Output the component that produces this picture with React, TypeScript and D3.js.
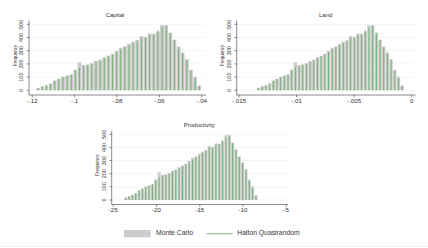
import React from 'react';
import * as d3 from 'd3';

// ---- data (counts per bin, 40 bins, same draws shown in all three panels) ----
const capitalMonteCarlo = [18, 30, 37, 52, 74, 86, 102, 110, 120, 158, 212, 190, 195, 205, 222, 232, 250, 262, 276, 298, 322, 332, 352, 368, 382, 410, 405, 430, 428, 445, 493, 493, 437, 381, 331, 285, 235, 155, 103, 35];
const capitalHalton = [15, 28, 40, 50, 72, 88, 100, 112, 118, 148, 172, 185, 192, 202, 218, 228, 245, 258, 272, 290, 308, 328, 340, 358, 372, 400, 398, 420, 425, 457, 477, 490, 432, 386, 326, 280, 230, 149, 91, 35];
const landMonteCarlo = [18, 30, 37, 52, 74, 86, 102, 110, 120, 158, 212, 190, 195, 205, 222, 232, 250, 262, 276, 298, 322, 332, 352, 368, 382, 410, 405, 430, 428, 445, 493, 493, 437, 381, 331, 285, 235, 155, 103, 35];
const landHalton = [15, 28, 40, 50, 72, 88, 100, 112, 118, 148, 172, 185, 192, 202, 218, 228, 245, 258, 272, 290, 308, 328, 340, 358, 372, 400, 398, 420, 425, 457, 477, 490, 432, 386, 326, 280, 230, 149, 91, 35];
const productivityMonteCarlo = [18, 30, 37, 52, 74, 86, 102, 110, 120, 158, 212, 190, 195, 205, 222, 232, 250, 262, 276, 298, 322, 332, 352, 368, 382, 410, 405, 430, 428, 445, 493, 493, 437, 381, 331, 285, 235, 155, 103, 35];
const productivityHalton = [15, 28, 40, 50, 72, 88, 100, 112, 118, 148, 172, 185, 192, 202, 218, 228, 245, 258, 272, 290, 308, 328, 340, 358, 372, 400, 398, 420, 425, 457, 477, 490, 432, 386, 326, 280, 230, 149, 91, 35];

// bin ranges (min, max of histogram)
const capitalBinRange = [-0.1182, -0.0402];
const landBinRange = [-0.01346, -0.00067];
const productivityBinRange = [-23.76, -8.31];

// tick values and labels
const capitalTicks = [-0.12, -0.1, -0.08, -0.06, -0.04];
const capitalTickLabels = ['-.12', '-.1', '-.08', '-.06', '-.04'];
const landTicks = [-0.015, -0.01, -0.005, 0];
const landTickLabels = ['-.015', '-.01', '-.005', '0'];
const productivityTicks = [-25, -20, -15, -10, -5];
const productivityTickLabels = ['-25', '-20', '-15', '-10', '-5'];
const frequencyTicks = [0, 100, 200, 300, 400, 500];

const seriesNames = ['Monte Carlo', 'Halton Quasirandom'];

const FONT = "'Liberation Sans', Arial, Helvetica, sans-serif";
const GRAY = '#cccccc';
const GREEN = '#39a039';
const AXIS = '#3a3a3a';
const TEXT = '#333333';

type PanelProps = {
  title: string;
  xDomain: [number, number];
  xRange: [number, number];
  yRange: [number, number];
  axisX: number;
  axisTop: number;
  axisBottom: number;
  right: number;
  titleX: number;
  titleY: number;
  binRange: number[];
  ticks: number[];
  tickLabels: string[];
  mc: number[];
  halton: number[];
};

function Panel(p: PanelProps) {
  const x = d3.scaleLinear().domain(p.xDomain).range(p.xRange);
  const y = d3.scaleLinear().domain([0, 500]).range(p.yRange);
  const n = p.mc.length;
  const edges = d3.range(n + 1).map((i) => p.binRange[0] + ((p.binRange[1] - p.binRange[0]) * i) / n);
  const midY = y(250);
  return (
    <g>
      <text x={p.titleX} y={p.titleY} fontSize={6} textAnchor="middle" dominantBaseline="middle" fill={TEXT} fontFamily={FONT}>
        {p.title}
      </text>
      {frequencyTicks.map((t) => (
        <line key={'g' + t} x1={p.axisX} x2={p.right} y1={y(t)} y2={y(t)} stroke="#ececec" strokeWidth={0.6} />
      ))}
      {p.mc.map((v, i) => {
        const x0 = x(edges[i]);
        const x1 = x(edges[i + 1]);
        return <rect key={'b' + i} x={x0 + 0.15} width={x1 - x0 - 0.3} y={y(v)} height={y(0) - y(v)} fill={GRAY} />;
      })}
      {p.halton.map((v, i) => {
        const cx = x((edges[i] + edges[i + 1]) / 2);
        return <line key={'s' + i} x1={cx} x2={cx} y1={y(0)} y2={y(v)} stroke={GREEN} strokeWidth={0.6} />;
      })}
      {/* y axis */}
      <line x1={p.axisX} x2={p.axisX} y1={p.axisTop} y2={p.axisBottom} stroke={AXIS} strokeWidth={0.6} />
      {frequencyTicks.map((t) => (
        <g key={'yt' + t}>
          <line x1={p.axisX - 2.3} x2={p.axisX} y1={y(t)} y2={y(t)} stroke={AXIS} strokeWidth={0.6} />
          <text
            transform={`translate(${p.axisX - 7.5},${y(t)}) rotate(-90)`}
            fontSize={5.5}
            textAnchor="middle"
            dominantBaseline="middle"
            fill={TEXT}
            fontFamily={FONT}
          >
            {t}
          </text>
        </g>
      ))}
      <text
        transform={`translate(${p.axisX - 13.5},${midY - 2}) rotate(-90)`}
        fontSize={4.5}
        textAnchor="middle"
        dominantBaseline="middle"
        fill={TEXT}
        fontFamily={FONT}
      >
        Frequency
      </text>
      {/* x axis */}
      <line x1={p.axisX} x2={p.right} y1={p.axisBottom} y2={p.axisBottom} stroke={AXIS} strokeWidth={0.6} />
      {p.ticks.map((t, i) => (
        <g key={'xt' + i}>
          <line x1={x(t)} x2={x(t)} y1={p.axisBottom} y2={p.axisBottom + 2.3} stroke={AXIS} strokeWidth={0.6} />
          <text x={x(t)} y={p.axisBottom + 6.3} fontSize={6.2} textAnchor="middle" dominantBaseline="middle" fill={TEXT} fontFamily={FONT}>
            {p.tickLabels[i]}
          </text>
        </g>
      ))}
    </g>
  );
}

export default function App() {
  return (
    <svg width={428} height={248} style={{ position: 'absolute', left: 0, top: 0, background: '#fff' }}>
      <rect x={0} y={0} width={428} height={248} fill="#ffffff" />
      <Panel
        title="Capital"
        xDomain={[-0.12, -0.04]}
        xRange={[32.3, 201.7]}
        yRange={[90.3, 24.3]}
        axisX={29}
        axisTop={20.7}
        axisBottom={95}
        right={206}
        titleX={115}
        titleY={15}
        binRange={capitalBinRange}
        ticks={capitalTicks}
        tickLabels={capitalTickLabels}
        mc={capitalMonteCarlo}
        halton={capitalHalton}
      />
      <Panel
        title="Land"
        xDomain={[-0.015, 0]}
        xRange={[239, 411.7]}
        yRange={[90.3, 24.3]}
        axisX={236.7}
        axisTop={20.7}
        axisBottom={95}
        right={415.7}
        titleX={325.7}
        titleY={15}
        binRange={landBinRange}
        ticks={landTicks}
        tickLabels={landTickLabels}
        mc={landMonteCarlo}
        halton={landHalton}
      />
      <Panel
        title="Productivity"
        xDomain={[-25, -5]}
        xRange={[113.3, 286.3]}
        yRange={[200, 134.3]}
        axisX={111.7}
        axisTop={130.7}
        axisBottom={204.5}
        right={288}
        titleX={199.3}
        titleY={125}
        binRange={productivityBinRange}
        ticks={productivityTicks}
        tickLabels={productivityTickLabels}
        mc={productivityMonteCarlo}
        halton={productivityHalton}
      />
      {/* legend */}
      <rect x={124} y={230} width={26.7} height={7.3} fill={GRAY} />
      <text x={156} y={233.7} fontSize={6.8} dominantBaseline="middle" fill={TEXT} fontFamily={FONT}>
        {seriesNames[0]}
      </text>
      <line x1={206.7} x2={232.7} y1={233.7} y2={233.7} stroke={GREEN} strokeWidth={0.7} />
      <text x={237.3} y={233.7} fontSize={6.8} dominantBaseline="middle" fill={TEXT} fontFamily={FONT}>
        {seriesNames[1]}
      </text>
      <line x1={0} x2={428} y1={246.5} y2={246.5} stroke="#eeeeee" strokeWidth={0.8} />
    </svg>
  );
}
